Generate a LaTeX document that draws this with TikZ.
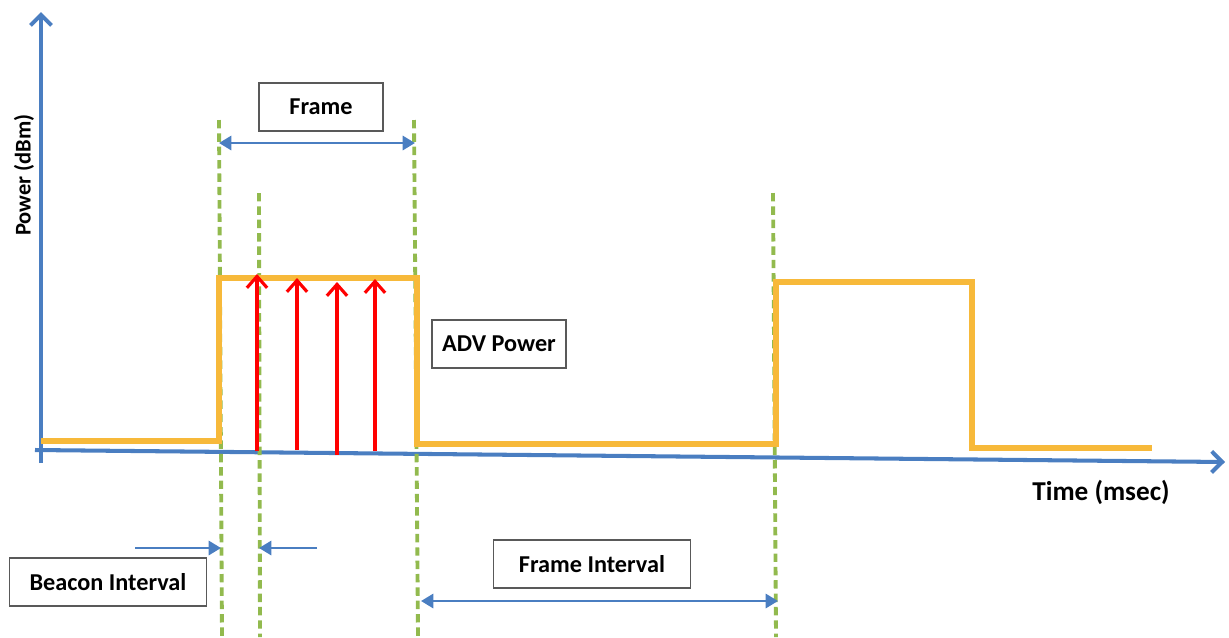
\documentclass[tikz,border=0pt]{standalone}
\usepackage{fontspec}
\setmainfont{Carlito}
\usetikzlibrary{arrows.meta}
\definecolor{axisblue}{RGB}{74,126,193}
\definecolor{sigorange}{RGB}{247,185,58}
\definecolor{guidegreen}{RGB}{146,186,78}

\begin{document}
\begin{tikzpicture}[x=0.02cm, y=-0.02cm,
    font=\fontsize{13.8}{16}\selectfont\bfseries,
    axis/.style={axisblue, line width=2.3pt, -{Straight Barb[length=6pt, width=12pt, line width=2.3pt]}},
    signal/.style={sigorange, line width=3.4pt},
    pulse/.style={red, line width=1.8pt, -{Straight Barb[length=6.5pt, width=11.5pt, line width=1.8pt]}},
    guide/.style={guidegreen, line width=2.2pt, dash pattern=on 4.8pt off 2.8pt},
    span/.style={axisblue, line width=1.6pt, {Triangle[length=7pt, width=8pt]}-{Triangle[length=7pt, width=8pt]}},
    onearrow/.style={axisblue, line width=1.6pt, -{Triangle[length=7pt, width=8pt]}},
    tag/.style={draw=black!65, line width=1.1pt, inner sep=0pt, minimum height=0.95cm}]
  \useasboundingbox (0,0) rectangle (1229,637);

  % axes
  \coordinate (ybot) at (41,463);
  \coordinate (ytop) at (41,12);
  \coordinate (xleft) at (35,450);
  \coordinate (xright) at (1225,462);
  \draw[axis] (ybot) -- (ytop);
  \draw[axis] (xleft) -- (xright);
  \node[rotate=90, font=\fontsize{12.8}{15}\selectfont\bfseries] (ylabel) at (24,175) {Power (dBm)};
  \node[font=\fontsize{15.5}{18}\selectfont\bfseries] (xlabel) at (1101,492) {Time (msec)};

  % green guide lines
  \coordinate (g1top) at (219,120);  \coordinate (g1bot) at (222,637);
  \coordinate (g2top) at (259,193);  \coordinate (g2bot) at (260,637);
  \coordinate (g3top) at (414,120);  \coordinate (g3bot) at (418,637);
  \coordinate (g4top) at (773,193);  \coordinate (g4bot) at (776,637);
  \foreach \g in {1,2,3,4}
    \draw[guide] (g\g top) -- (g\g bot);

  % power signal
  \draw[signal] (41,441) -- (219,441) -- (219,278) -- (417,278) -- (417,444)
    -- (776,444) -- (776,282) -- (972,282) -- (972,448) -- (1152,448);

  % beacons
  \foreach \x/\y/\b in {257/274/451, 297/278/450, 337/282/455, 375/279/451}
    \draw[pulse] (\x,\b) -- (\x,\y);

  % frame
  \node[tag, minimum width=2.48cm] (frame) at (321,107) {Frame};
  \coordinate (frameL) at (219,143);
  \coordinate (frameR) at (415,143);
  \draw[span] (frameL) -- (frameR);

  \node[tag, minimum width=2.68cm] (adv) at (499,344) {ADV Power};

  % beacon interval
  \node[tag, minimum width=3.94cm] (beacon) at (108,582) {Beacon Interval};
  \coordinate (bL) at (135,548);
  \coordinate (bLend) at (221,548);
  \coordinate (bR) at (317,548);
  \coordinate (bRend) at (259,548);
  \draw[onearrow] (bL) -- (bLend);
  \draw[onearrow] (bR) -- (bRend);

  % frame interval
  \node[tag, minimum width=3.94cm] (finterval) at (592,564) {Frame Interval};
  \coordinate (fiL) at (421,601);
  \coordinate (fiR) at (778,601);
  \draw[span] (fiL) -- (fiR);
\end{tikzpicture}
\end{document}
